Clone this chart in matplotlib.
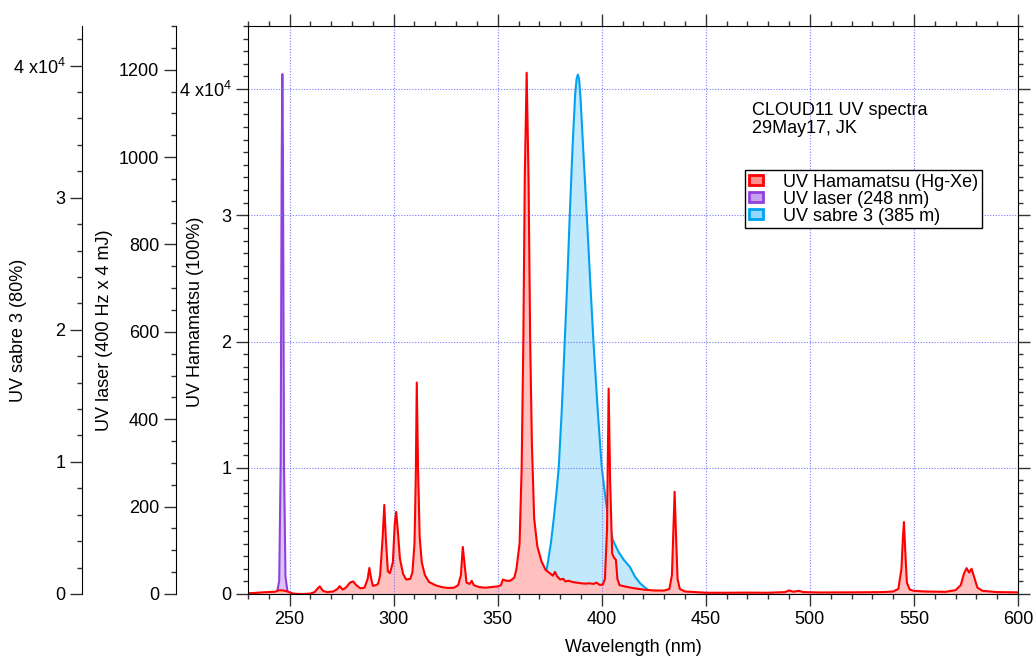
import matplotlib
matplotlib.use('Agg')
import matplotlib.pyplot as plt
from matplotlib.ticker import MultipleLocator, FuncFormatter
from matplotlib.patches import Rectangle

plt.rcParams['font.family'] = ['Liberation Sans', 'DejaVu Sans']
plt.rcParams['mathtext.fontset'] = 'custom'
plt.rcParams['mathtext.rm'] = 'Liberation Sans'
plt.rcParams['mathtext.it'] = 'Liberation Sans:italic'

# Hamamatsu Hg-Xe lamp (counts, main axis)
hama_wl = [230, 233, 236, 240, 243, 245, 247, 249, 251, 253, 256, 260, 262, 263.5, 264.5,
           266, 268, 271, 273, 274, 275.5, 277, 279, 280.5, 282, 284, 286, 287.5, 288.3,
           289.2, 290, 291.5, 292.5, 293.5, 294.7, 295.5, 296.2, 297.2, 298.2, 299.6, 300.5,
           301.2, 302, 303, 304.5, 306, 308, 309, 310, 310.6, 311.1, 311.7, 312.5, 313.5,
           315, 317, 320, 323, 326, 329, 331, 332.3, 333.2, 334, 335, 336.5, 337.5, 338.5,
           341, 344, 347, 350, 351.5, 352.5, 354, 356, 358, 359, 360.5, 361.5, 362.3, 363,
           363.9, 364.8, 365.6, 366.4, 367.5, 369, 371, 373, 375, 376.5, 377.5, 378.5, 380,
           381.5, 382.5, 384, 386, 388, 390, 392, 394, 396, 397.5, 399, 400.5, 401.5, 402.5,
           403.3, 404, 405, 405.8, 406.8, 407.5, 408.5, 411, 415, 420, 425, 430, 432.5,
           433.7, 434.4, 435.0, 435.6, 436.4, 437.5, 440, 445, 450, 460, 470, 480, 488, 490,
           492, 494.5, 497, 505, 520, 535, 540, 542.5, 544, 544.7, 545.2, 545.8, 546.6, 548,
           550, 555, 565, 570, 572.5, 574, 575.3, 576.5, 577.7, 579, 580.5, 583, 590, 600]
hama_val = [60, 80, 120, 150, 180, 300, 280, 200, 60, 10, 0, 30, 150, 450, 600,
            250, 150, 200, 400, 620, 350, 500, 900, 1000, 700, 450, 500, 1200, 2060,
            1200, 650, 700, 800, 1500, 4500, 7060, 4500, 1800, 1650, 2500, 5500,
            6500, 5000, 2800, 1600, 1150, 1200, 1700, 4000, 9000, 16750, 10000, 4500, 2500,
            1500, 950, 700, 550, 480, 500, 700, 1500, 3730, 2500, 900, 800, 1050, 700,
            550, 500, 550, 600, 700, 1150, 1050, 1050, 1300, 2000, 4000, 10000, 20000, 33000,
            41300, 33000, 20000, 12000, 6000, 3800, 2600, 1900, 1650, 1450, 1750, 1400, 1150,
            1200, 1000, 1050, 950, 900, 850, 820, 850, 800, 900, 720, 750, 1200, 5000,
            16270, 9000, 3200, 2900, 2700, 1200, 700, 600, 470, 350, 280, 270, 400,
            1500, 5000, 8100, 5000, 1200, 400, 200, 150, 100, 100, 110, 100, 150, 280,
            180, 250, 150, 120, 130, 150, 200, 400, 2000, 4500, 5700, 3500, 900, 350,
            250, 200, 170, 300, 700, 1600, 2050, 1700, 2000, 1300, 500, 250, 150, 130]

# UV laser (laser axis units)
laser_wl = [243, 244, 245, 245.7, 246.2, 246.5, 246.8, 247.3, 248, 249, 250]
laser_val = [0, 5, 30, 300, 1000, 1190, 1000, 300, 40, 5, 0]

# UV sabre 3 (sabre axis units)
sabre_wl = [230, 372.8, 373.2, 374, 375.5, 377, 378.3, 379.3, 380.8, 382.2, 383.5, 384.6,
            386, 387.2, 387.9, 388.5, 389.1, 389.8, 390.8, 392.8, 394.5, 396, 398, 400, 402,
            403.5, 405.3, 408, 410.5, 413.5, 416, 418.5, 421.6, 424, 426, 600]
sabre_val = [0, 0, 1600, 2300, 3800, 5800, 7800, 9545, 14000, 19090, 24000, 28640,
             34000, 37800, 39000, 39320, 39000, 37500, 34500, 28640, 23500, 19090, 14000, 9545,
             7000, 5400, 4090, 3200, 2600, 2045, 1300, 800, 380, 150, 50, 0]

fig = plt.figure(figsize=(10.36, 6.56), dpi=100)
ax = fig.add_axes([248/1036, 62/656, 770/1036, 568/656])


def side_axis(pos):
    a = ax.twinx()
    for s in ['top', 'right', 'bottom']:
        a.spines[s].set_visible(False)
    a.spines['left'].set_visible(True)
    a.spines['left'].set_position(('axes', pos))
    a.yaxis.set_ticks_position('left')
    a.yaxis.set_label_position('left')
    a.patch.set_visible(False)
    return a


laser = side_axis((176 - 248) / 770)
sabre = side_axis((82 - 248) / 770)
ax.set_zorder(5)
ax.patch.set_visible(False)

sabre.fill_between(sabre_wl, sabre_val, 0, color='#c2e8fb', lw=0)
sabre.plot(sabre_wl, sabre_val, color='#00a2f0', lw=1.5)
laser.fill_between(laser_wl, laser_val, 0, color='#dcc4f2', lw=0)
laser.plot(laser_wl, laser_val, color='#9040e0', lw=1.5)
ax.fill_between(hama_wl, hama_val, 0, color='#ffc0c0', lw=0)
ax.plot(hama_wl, hama_val, color='#ff0000', lw=1.5)

ax.set_xlim(230, 600)
ax.set_ylim(0, 45000)
laser.set_ylim(0, 1300)
sabre.set_ylim(0, 43000)


def e4(v, pos):
    n = int(round(v / 1e4))
    return '4 x10$^{4}$' if n == 4 else str(n)


ax.xaxis.set_major_locator(MultipleLocator(50))
ax.xaxis.set_minor_locator(MultipleLocator(10))
ax.yaxis.set_major_locator(MultipleLocator(10000))
ax.yaxis.set_minor_locator(MultipleLocator(1000))
ax.yaxis.set_major_formatter(FuncFormatter(e4))
laser.yaxis.set_major_locator(MultipleLocator(200))
laser.yaxis.set_minor_locator(MultipleLocator(50))
sabre.yaxis.set_major_locator(MultipleLocator(10000))
sabre.yaxis.set_minor_locator(MultipleLocator(2000))
sabre.yaxis.set_major_formatter(FuncFormatter(e4))

fs = 13
ax.tick_params(which='both', direction='out', top=True, right=True, labelsize=fs, width=1, color='#333333')
ax.tick_params(which='major', length=8.5)
ax.tick_params(which='minor', length=3.5)
for a in (laser, sabre):
    a.tick_params(which='both', direction='out', labelsize=fs, width=1, color='#333333')
    a.tick_params(which='major', length=8.5)
    a.tick_params(which='minor', length=3.5)

ax.grid(True, which='major', color='#7878ff', ls=(0, (1, 1.5)), lw=0.8)
ax.set_axisbelow('line')

ax.set_xlabel('Wavelength (nm)', fontsize=fs, labelpad=8)
ax.set_ylabel('UV Hamamatsu (100%)', fontsize=fs, va='center')
ax.yaxis.set_label_coords((195 - 248) / 770, 0.4965)
laser.set_ylabel('UV laser (400 Hz x 4 mJ)', fontsize=fs, va='center')
laser.yaxis.set_label_coords((104 - 248) / 770, 0.465)
sabre.set_ylabel('UV sabre 3 (80%)', fontsize=fs, va='center')
sabre.yaxis.set_label_coords((18 - 248) / 770, 0.465)

ax.text((752 - 248) / 770, (594 - 102) / 568, 'CLOUD11 UV spectra\n29May17, JK',
        transform=ax.transAxes, fontsize=fs, va='top', linespacing=1.1)

handles = [Rectangle((0, 0), 1, 1, facecolor='#ff9090', edgecolor='#ff0000', lw=2),
           Rectangle((0, 0), 1, 1, facecolor='#c8a0f0', edgecolor='#9040e0', lw=2),
           Rectangle((0, 0), 1, 1, facecolor='#90d8ff', edgecolor='#00a2f0', lw=2)]
leg = ax.legend(handles, ['UV Hamamatsu (Hg-Xe)', 'UV laser (248 nm)', 'UV sabre 3 (385 m)'],
                loc='upper left', bbox_to_anchor=((745 - 248) / 770, (594 - 170) / 568),
                fontsize=fs, fancybox=False, framealpha=1, edgecolor='black',
                handlelength=0.8, handleheight=0.5, labelspacing=0.0, borderpad=0.2,
                handletextpad=1.1, borderaxespad=0)
leg.get_frame().set_linewidth(1)

fig.savefig('out.png', dpi=100)
